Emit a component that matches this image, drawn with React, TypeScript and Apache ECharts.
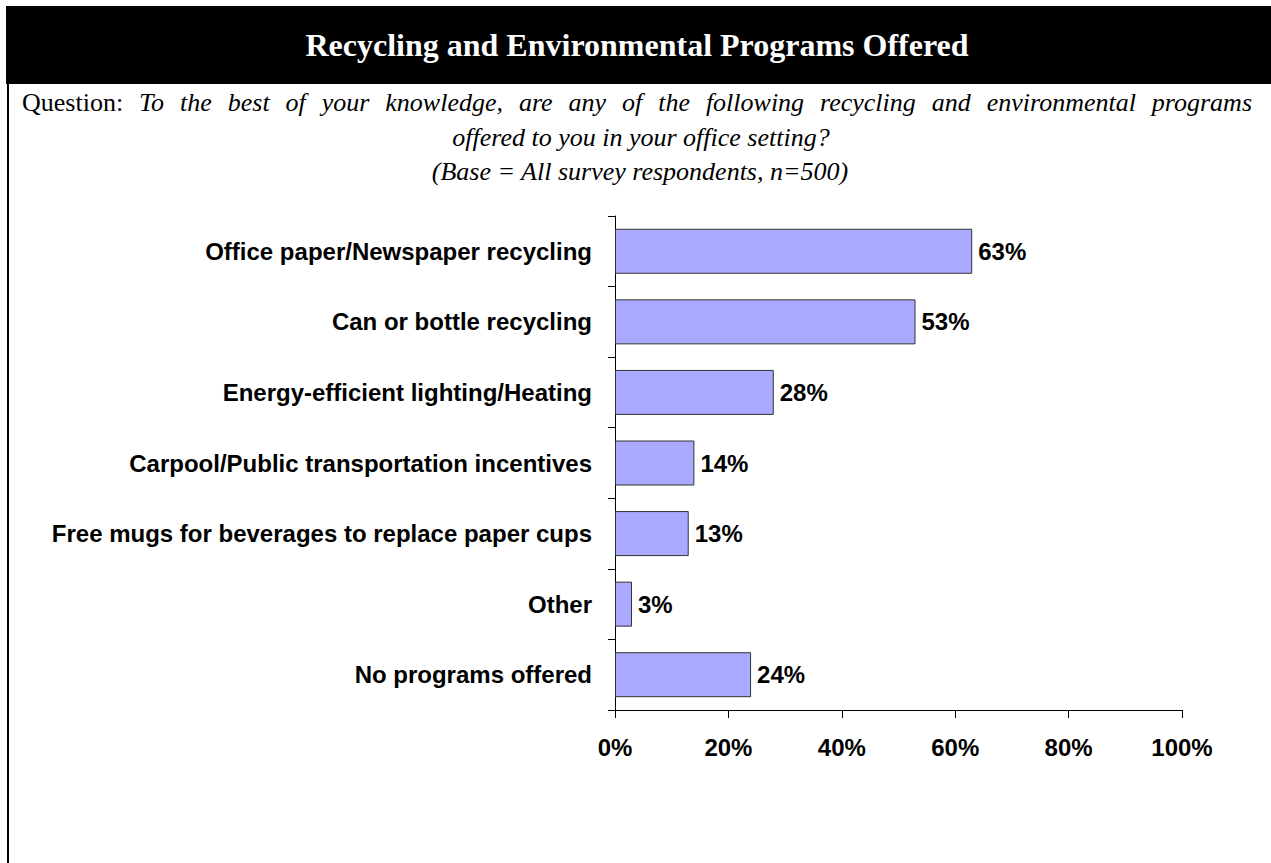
import React, { useEffect, useRef } from "react";
import * as echarts from "echarts";

const titleText = "Recycling and Environmental Programs Offered";
const questionLabel = "Question:";
const questionLine1 =
  "To the best of your knowledge, are any of the following recycling and environmental programs";
const questionLine2 = "offered to you in your office setting?";
const questionLine3 = "(Base = All survey respondents, n=500)";

const categories = [
  "Office paper/Newspaper recycling",
  "Can or bottle recycling",
  "Energy-efficient lighting/Heating",
  "Carpool/Public transportation incentives",
  "Free mugs for beverages to replace paper cups",
  "Other",
  "No programs offered",
];
const values = [63, 53, 28, 14, 13, 3, 24];
const xMin = 0;
const xMax = 100;
const xStep = 20;

const SERIF = "'Liberation Serif', 'Times New Roman', serif";
const SANS = "'Liberation Sans', Arial, sans-serif";

function justifiedLine(left: number, right: number, y: number, fontSize: number) {
  const canvas = document.createElement("canvas");
  const ctx = canvas.getContext("2d")!;
  const words: { text: string; italic: boolean }[] = [
    { text: questionLabel, italic: false },
    ...questionLine1.split(" ").map((w) => ({ text: w, italic: true })),
  ];
  const widths = words.map((w) => {
    ctx.font = `${w.italic ? "italic " : ""}${fontSize}px ${SERIF}`;
    return ctx.measureText(w.text).width;
  });
  const total = widths.reduce((a, b) => a + b, 0);
  const gap = (right - left - total) / (words.length - 1);
  const els: any[] = [];
  let x = left;
  words.forEach((w, i) => {
    els.push({
      type: "text",
      x,
      y,
      style: {
        text: w.text,
        fill: "#000",
        font: `${w.italic ? "italic " : ""}${fontSize}px ${SERIF}`,
        align: "left",
        verticalAlign: "middle",
      },
    });
    x += widths[i] + gap;
  });
  return els;
}

export default function App() {
  const ref = useRef<HTMLDivElement>(null);
  useEffect(() => {
    if (!ref.current) return;
    const chart = echarts.init(ref.current, null, { renderer: "svg" });
    chart.setOption({
      animation: false,
      backgroundColor: "#ffffff",
      grid: { left: 615, right: 89, top: 216, bottom: 153, containLabel: false },
      xAxis: {
        type: "value",
        min: xMin,
        max: xMax,
        interval: xStep,
        axisLine: { show: true, lineStyle: { color: "#000", width: 1 } },
        axisTick: { show: true, length: 8, lineStyle: { color: "#000" } },
        splitLine: { show: false },
        axisLabel: {
          formatter: "{value}%",
          color: "#000",
          fontFamily: SANS,
          fontWeight: "bold",
          fontSize: 24,
          margin: 25,
        },
      },
      yAxis: {
        type: "category",
        inverse: true,
        data: categories,
        axisLine: { show: true, lineStyle: { color: "#000", width: 1 } },
        axisTick: { show: true, length: 7, lineStyle: { color: "#000" } },
        axisLabel: {
          color: "#000",
          fontFamily: SANS,
          fontWeight: "bold",
          fontSize: 24,
          margin: 23,
        },
      },
      series: [
        {
          type: "bar",
          data: values,
          barWidth: 45,
          itemStyle: {
            color: "#a9a9ff",
            borderColor: "#333333",
            borderWidth: 1,
          },
          label: {
            show: true,
            position: "right",
            distance: 6,
            formatter: "{c}%",
            color: "#000",
            fontFamily: SANS,
            fontWeight: "bold",
            fontSize: 24,
          },
        },
      ],
      graphic: [
        {
          type: "rect",
          shape: { x: 6, y: 6, width: 1265, height: 78 },
          style: { fill: "#000" },
          silent: true,
        },
        {
          type: "rect",
          shape: { x: 7, y: 6, width: 2, height: 857 },
          style: { fill: "#000" },
          silent: true,
        },
        {
          type: "text",
          x: 637,
          y: 45,
          style: {
            text: titleText,
            fill: "#fff",
            font: `bold 32px ${SERIF}`,
            align: "center",
            verticalAlign: "middle",
          },
        },
        ...justifiedLine(22, 1252, 102, 26),
        {
          type: "text",
          x: 641,
          y: 137,
          style: {
            text: questionLine2,
            fill: "#000",
            font: `italic 26px ${SERIF}`,
            align: "center",
            verticalAlign: "middle",
          },
        },
        {
          type: "text",
          x: 640,
          y: 171,
          style: {
            text: questionLine3,
            fill: "#000",
            font: `italic 26px ${SERIF}`,
            align: "center",
            verticalAlign: "middle",
          },
        },
      ],
    });
    return () => chart.dispose();
  }, []);
  return (
    <div
      ref={ref}
      style={{ position: "fixed", left: 0, top: 0, width: 1271, height: 863, background: "#fff" }}
    />
  );
}
